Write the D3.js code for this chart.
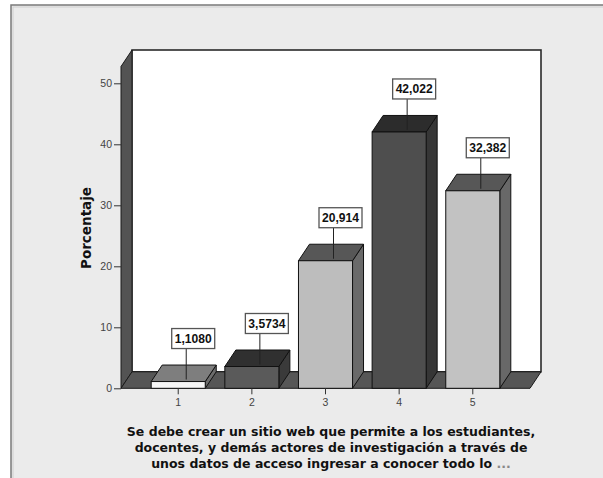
<!DOCTYPE html>
<html>
<head>
<meta charset="utf-8">
<script src="https://cdn.jsdelivr.net/npm/d3@7"></script>
<style>
  html, body { margin: 0; padding: 0; background: #ffffff; }
  svg { display: block; }
  text { font-family: "Liberation Sans", Arial, sans-serif; }
</style>
</head>
<body>
<script>
// Data: response categories and their percentages
const categories = ["1", "2", "3", "4", "5"];
const percentages = [1.1080, 3.5734, 20.914, 42.022, 32.382];
const valueLabels = ["1,1080", "3,5734", "20,914", "42,022", "32,382"];
const yTicks = [0, 10, 20, 30, 40, 50];
const yTitle = "Porcentaje";
const xTitleLines = [
  "Se debe crear un sitio web que permite a los estudiantes,",
  "docentes, y demás actores de investigación a través de",
  "unos datos de acceso ingresar a conocer todo lo"
];

// Shading of each bar's faces (front, top, side)
const frontFill = ["#f6f6f6", "#5a5a5a", "#bdbdbd", "#4e4e4e", "#c2c2c2"];
const topFill   = ["#7e7e7e", "#303030", "#575757", "#2c2c2c", "#575757"];
const sideFill  = ["#6c6c6c", "#3a3a3a", "#6a6a6a", "#363636", "#686868"];

const W = 603, H = 478;
const titleFont = "'DejaVu Sans', Verdana, sans-serif";
const svg = d3.select("body").append("svg").attr("width", W).attr("height", H);

// Panel background
svg.append("rect").attr("x", 11).attr("y", 5).attr("width", 600).attr("height", 480)
  .attr("fill", "#ebebeb").attr("stroke", "#7a7a7a").attr("stroke-width", 1.5);
svg.append("rect").attr("x", 13).attr("y", 7).attr("width", 600).attr("height", 480)
  .attr("fill", "none").attr("stroke", "#cfcfcf").attr("stroke-width", 1);

// Front plane geometry and depth offset of the 3D box
const left = 121, right = 530, base = 388.3;
const dx = 11, dy = 16.5;

const y = d3.scaleLinear().domain([0, 50]).range([base, 83.3]);
const yTopVal = y.invert(50 + dy); // value at which the back wall top sits on the front plane
const x = d3.scaleBand().domain(categories).range([left, right])
  .paddingInner(0.266).paddingOuter(0.41);

const backTop = y(yTopVal) - dy;

// Back wall
svg.append("rect")
  .attr("x", left + dx).attr("y", backTop)
  .attr("width", right - left).attr("height", base - dy - backTop)
  .attr("fill", "#ffffff").attr("stroke", "#2a2a2a").attr("stroke-width", 1.6);

// Left side wall
const sideTop = y(yTopVal);
svg.append("path")
  .attr("d", `M${left},${base} L${left},${sideTop} L${left + dx},${sideTop - dy} L${left + dx},${base - dy} Z`)
  .attr("fill", "#535353").attr("stroke", "#1a1a1a").attr("stroke-width", 1);

// Floor
svg.append("path")
  .attr("d", `M${left},${base} L${right},${base} L${right + dx},${base - dy} L${left + dx},${base - dy} Z`)
  .attr("fill", "#565656").attr("stroke", "#1a1a1a").attr("stroke-width", 1);

// Bars
const bars = svg.append("g");
categories.forEach((c, i) => {
  const x0 = x(c), x1 = x0 + x.bandwidth(), yt = y(percentages[i]);
  const g = bars.append("g");
  g.append("path") // side
    .attr("d", `M${x1},${base} L${x1},${yt} L${x1 + dx},${yt - dy} L${x1 + dx},${base - dy} Z`)
    .attr("fill", sideFill[i]).attr("stroke", "#111").attr("stroke-width", 1);
  g.append("path") // top
    .attr("d", `M${x0},${yt} L${x0 + dx},${yt - dy} L${x1 + dx},${yt - dy} L${x1},${yt} Z`)
    .attr("fill", topFill[i]).attr("stroke", "#111").attr("stroke-width", 1);
  g.append("rect") // front
    .attr("x", x0).attr("y", yt).attr("width", x.bandwidth()).attr("height", base - yt)
    .attr("fill", frontFill[i]).attr("stroke", "#111").attr("stroke-width", 1);
});

// Y axis
const yAxis = d3.axisLeft(y).tickValues(yTicks).tickSize(7).tickPadding(2).tickFormat(d3.format("d"));
const gy = svg.append("g").attr("transform", `translate(${left},0)`).call(yAxis);
gy.select(".domain").remove();
gy.selectAll(".tick line").attr("stroke", "#333");
gy.selectAll(".tick text").attr("fill", "#444").style("font-size", "10.5px")
  .style("font-family", "'Liberation Sans', Arial, sans-serif");

// X axis
const xAxis = d3.axisBottom(x).tickSize(6).tickPadding(4);
const gx = svg.append("g").attr("transform", `translate(0,${base})`).call(xAxis);
gx.select(".domain").remove();
gx.selectAll(".tick line").attr("stroke", "#333");
gx.selectAll(".tick text").attr("fill", "#444").style("font-size", "10.5px")
  .style("font-family", "'Liberation Sans', Arial, sans-serif");

// Value labels with leader lines
const labels = svg.append("g");
categories.forEach((c, i) => {
  const cx = x(c) + x.bandwidth() / 2;
  const yt = y(percentages[i]);
  const boxW = 43, boxH = 20;
  const bx = cx + 15, lx = cx + 8;
  const boxBottom = yt - 33;
  labels.append("line")
    .attr("x1", lx).attr("x2", lx).attr("y1", boxBottom).attr("y2", yt - 2)
    .attr("stroke", "#222").attr("stroke-width", 1);
  labels.append("rect")
    .attr("x", bx - boxW / 2).attr("y", boxBottom - boxH)
    .attr("width", boxW).attr("height", boxH)
    .attr("fill", "#ffffff").attr("stroke", "#555").attr("stroke-width", 1.3);
  labels.append("text")
    .attr("x", bx).attr("y", boxBottom - boxH / 2 + 4.5)
    .attr("text-anchor", "middle")
    .style("font-size", "12px").style("font-weight", "bold").attr("fill", "#111")
    .attr("textLength", 37).attr("lengthAdjust", "spacingAndGlyphs")
    .text(valueLabels[i]);
});

// Y title
svg.append("text")
  .attr("transform", "translate(91,228) rotate(-90)")
  .attr("text-anchor", "middle")
  .style("font-family", titleFont)
  .style("font-size", "13.5px").style("font-weight", "bold").attr("fill", "#111")
  .text(yTitle);

// X title
const xt = svg.append("text").attr("text-anchor", "middle")
  .style("font-family", titleFont)
  .style("font-size", "12.5px").style("font-weight", "bold").attr("fill", "#111");
xTitleLines.forEach((line, i) => {
  const t = xt.append("tspan").attr("x", 331).attr("y", 436 + i * 16).text(line);
  if (i === xTitleLines.length - 1) {
    t.text(line + " ");
    t.append("tspan").attr("fill", "#888").text("...");
  }
});
</script>
</body>
</html>
